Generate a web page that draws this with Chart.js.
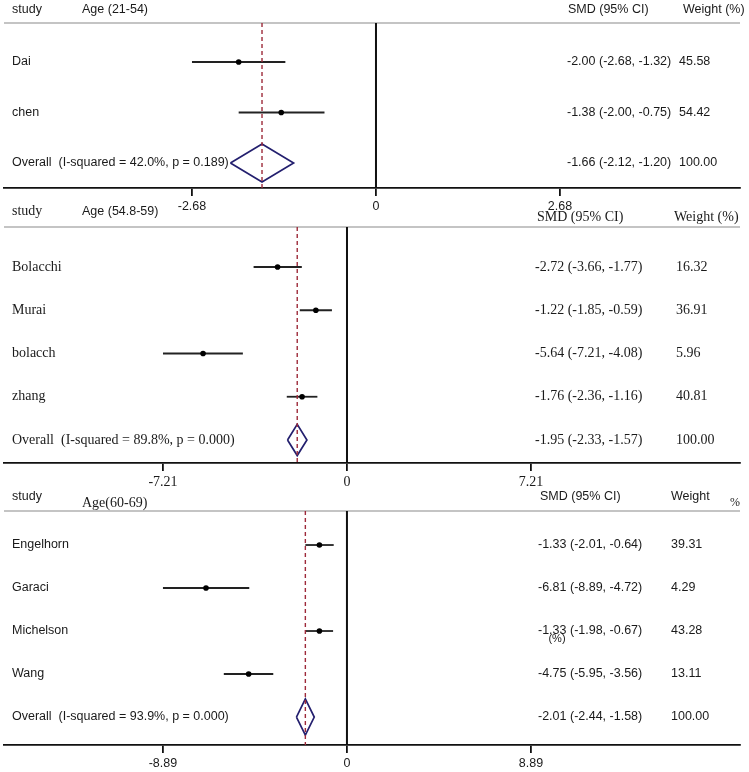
<!DOCTYPE html>
<html>
<head>
<meta charset="utf-8">
<script src="https://cdn.jsdelivr.net/npm/chart.js@4.4.1/dist/chart.umd.min.js"></script>
<style>
  body { margin: 0; background: #fff; }
  #wrap { position: relative; width: 749px; height: 772px; }
  canvas { position: absolute; left: 0; top: 0; }
</style>
</head>
<body>
<div id="wrap">
  <canvas id="panel1" width="749" height="772"></canvas>
  <canvas id="panel2" width="749" height="772"></canvas>
  <canvas id="panel3" width="749" height="772"></canvas>
</div>
<script>
// Age (21-54)
var studies1 = ["Dai", "chen"];
var smd1 = [-2.00, -1.38];
var lower1 = [-2.68, -2.00];
var upper1 = [-1.32, -0.75];
var weight1 = [45.58, 54.42];
var overall1 = [-1.66, -2.12, -1.20];
var het1 = ["42.0%", "0.189"];
var ticks1 = [-2.68, 0, 2.68];

// Age (54.8-59)
var studies2 = ["Bolacchi", "Murai", "bolacch", "zhang"];
var smd2 = [-2.72, -1.22, -5.64, -1.76];
var lower2 = [-3.66, -1.85, -7.21, -2.36];
var upper2 = [-1.77, -0.59, -4.08, -1.16];
var weight2 = [16.32, 36.91, 5.96, 40.81];
var overall2 = [-1.95, -2.33, -1.57];
var het2 = ["89.8%", "0.000"];
var ticks2 = [-7.21, 0, 7.21];

// Age(60-69)
var studies3 = ["Engelhorn", "Garaci", "Michelson", "Wang"];
var smd3 = [-1.33, -6.81, -1.33, -4.75];
var lower3 = [-2.01, -8.89, -1.98, -5.95];
var upper3 = [-0.64, -4.72, -0.67, -3.56];
var weight3 = [39.31, 4.29, 43.28, 13.11];
var overall3 = [-2.01, -2.44, -1.58];
var het3 = ["93.9%", "0.000"];
var ticks3 = [-8.89, 0, 8.89];

var SANS = '"Liberation Sans", Arial, sans-serif';
var SERIF = '"Liberation Serif", "Times New Roman", serif';
var INK = "#1a1a1a";

function fmtCI(est, lo, hi) {
  return est.toFixed(2) + " (" + lo.toFixed(2) + ", " + hi.toFixed(2) + ")";
}

// texto de cabecera, filas y linea gris
function textoForest(p) {
  return {
    id: "textoForest",
    beforeDatasetsDraw: function (chart) {
      var ctx = chart.ctx, area = chart.chartArea;
      ctx.save();
      ctx.strokeStyle = "#c4c4c4";
      ctx.lineWidth = 2;
      ctx.beginPath();
      ctx.moveTo(area.left, area.top);
      ctx.lineTo(area.right, area.top);
      ctx.stroke();
      ctx.restore();
    },
    afterDraw: function (chart) {
      var ctx = chart.ctx, yScale = chart.scales.y;
      ctx.save();
      ctx.fillStyle = INK;
      ctx.textBaseline = "middle";
      ctx.textAlign = "left";
      p.header.forEach(function (h) {
        ctx.font = h.font;
        ctx.fillText(h.text, h.x, h.y);
      });
      var n = p.studies.length;
      for (var i = 0; i < n; i++) {
        var y = yScale.getPixelForValue(i + 1);
        ctx.font = p.labelFont;
        ctx.fillText(p.studies[i], 12, y);
        ctx.font = p.numFont;
        ctx.fillText(fmtCI(p.smd[i], p.lower[i], p.upper[i]), p.smdX, y);
        ctx.fillText(p.weight[i].toFixed(2), p.wtX, y);
      }
      var yo = yScale.getPixelForValue(n + 1);
      ctx.font = p.labelFont;
      ctx.fillText("Overall  (I-squared = " + p.het[0] + ", p = " + p.het[1] + ")", 12, yo);
      ctx.font = p.numFont;
      ctx.fillText(fmtCI(p.overall[0], p.overall[1], p.overall[2]), p.smdX, yo);
      ctx.fillText("100.00", p.wtX, yo);
      (p.extra || []).forEach(function (h) {
        ctx.font = h.font;
        ctx.textAlign = "center";
        ctx.fillText(h.text, h.x, h.y);
      });
      ctx.restore();
    }
  };
}

function crearForest(canvasId, p) {
  var n = p.studies.length;
  var datasets = [];

  // linea discontinua del efecto global
  datasets.push({
    data: [{x: p.overall[0], y: p.yMin}, {x: p.overall[0], y: p.yMax}],
    showLine: true, borderColor: "#9e2a3a", borderWidth: 1.4, borderDash: [4, 3],
    pointRadius: 0, order: 0
  });
  // linea del cero
  datasets.push({
    data: [{x: 0, y: p.yMin}, {x: 0, y: p.yMax}],
    showLine: true, borderColor: "#111", borderWidth: 2, pointRadius: 0, order: 3
  });
  // intervalos
  for (var i = 0; i < n; i++) {
    datasets.push({
      data: [{x: p.lower[i], y: i + 1}, {x: p.upper[i], y: i + 1}],
      showLine: true, borderColor: "#222", borderWidth: 1.8, pointRadius: 0, order: 2
    });
  }
  // estimaciones puntuales
  datasets.push({
    data: p.smd.map(function (v, i) { return {x: v, y: i + 1}; }),
    pointRadius: 2.8, pointBackgroundColor: "#000", pointBorderWidth: 0, order: 1
  });
  // rombo
  var yo = n + 1, h = p.diamondH;
  datasets.push({
    data: [
      {x: p.overall[1], y: yo}, {x: p.overall[0], y: yo - h},
      {x: p.overall[2], y: yo}, {x: p.overall[0], y: yo + h},
      {x: p.overall[1], y: yo}
    ],
    showLine: true, borderColor: "#231f6e", borderWidth: 1.7, pointRadius: 0, order: 1
  });

  return new Chart(document.getElementById(canvasId), {
    type: "scatter",
    data: {datasets: datasets},
    options: {
      responsive: false,
      animation: false,
      devicePixelRatio: 1,
      layout: {padding: {top: p.top, left: 4, right: 9, bottom: 772 - p.bottom - 27}},
      plugins: {legend: {display: false}, tooltip: {enabled: false}},
      scales: {
        x: {
          type: "linear", min: p.xMin, max: p.xMax, bounds: "data",
          afterBuildTicks: function (scale) {
            scale.ticks = p.ticks.map(function (v) { return {value: v}; });
          },
          afterFit: function (scale) { scale.height = 27; },
          ticks: {
            autoSkip: false, maxRotation: 0, padding: 3, color: INK,
            font: p.tickFont,
            callback: function (v) { return v === 0 ? "0" : v.toFixed(2); }
          },
          grid: {drawOnChartArea: false, drawTicks: true, tickLength: 8, color: "#111", lineWidth: 1.8},
          border: {display: true, color: "#111", width: 1.8}
        },
        y: {type: "linear", reverse: true, min: p.yMin, max: p.yMax, display: false}
      }
    },
    plugins: [textoForest(p)]
  });
}

var sans12 = "12.5px " + SANS;
var serif14 = "14px " + SERIF;

crearForest("panel1", {
  studies: studies1, smd: smd1, lower: lower1, upper: upper1, weight: weight1,
  overall: overall1, het: het1, ticks: ticks1,
  xMin: -5.418, xMax: 5.302, yMin: 0.228, yMax: 3.495, top: 23, bottom: 188, diamondH: 0.376,
  labelFont: sans12, numFont: sans12, tickFont: {family: SANS, size: 12.5},
  smdX: 567, wtX: 679,
  header: [
    {text: "study", x: 12, y: 10, font: sans12},
    {text: "Age (21-54)", x: 82, y: 10, font: sans12},
    {text: "SMD (95% CI)", x: 568, y: 10, font: sans12},
    {text: "Weight (%)", x: 683, y: 10, font: sans12}
  ]
});

crearForest("panel2", {
  studies: studies2, smd: smd2, lower: lower2, upper: upper2, weight: weight2,
  overall: overall2, het: het2, ticks: ticks2,
  xMin: -13.44, xMax: 15.40, yMin: 0.075, yMax: 5.532, top: 227, bottom: 463, diamondH: 0.36,
  labelFont: serif14, numFont: serif14, tickFont: {family: SERIF, size: 14},
  smdX: 535, wtX: 676,
  header: [
    {text: "study", x: 12, y: 211, font: serif14},
    {text: "Age (54.8-59)", x: 82, y: 212, font: sans12},
    {text: "SMD (95% CI)", x: 537, y: 217, font: serif14},
    {text: "Weight (%)", x: 674, y: 217, font: serif14}
  ]
});

crearForest("panel3", {
  studies: studies3, smd: smd3, lower: lower3, upper: upper3, weight: weight3,
  overall: overall3, het: het3, ticks: ticks3,
  xMin: -16.57, xMax: 18.99, yMin: 0.209, yMax: 5.651, top: 511, bottom: 745, diamondH: 0.42,
  labelFont: sans12, numFont: sans12, tickFont: {family: SANS, size: 12.5},
  smdX: 538, wtX: 671,
  header: [
    {text: "study", x: 12, y: 497, font: sans12},
    {text: "Age(60-69)", x: 82, y: 503, font: serif14},
    {text: "SMD (95% CI)", x: 540, y: 497, font: sans12},
    {text: "Weight", x: 671, y: 497, font: sans12},
    {text: "%", x: 730, y: 503, font: "12px " + SERIF}
  ],
  extra: [{text: "(%)", x: 557, y: 639, font: "11px " + SANS}]
});
</script>
</body>
</html>
